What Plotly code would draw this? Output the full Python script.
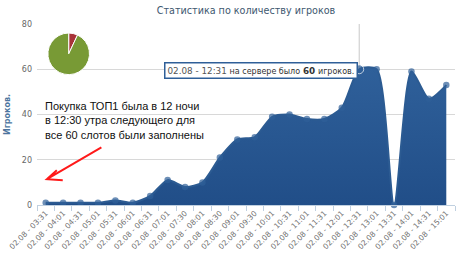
import plotly.graph_objects as go

# ---- data ----
categories = ["02.08 - 03:31", "02.08 - 04:01", "02.08 - 04:31", "02.08 - 05:01",
              "02.08 - 05:31", "02.08 - 06:01", "02.08 - 06:31", "02.08 - 07:01",
              "02.08 - 07:30", "02.08 - 08:01", "02.08 - 08:30", "02.08 - 09:01",
              "02.08 - 09:30", "02.08 - 10:01", "02.08 - 10:31", "02.08 - 11:01",
              "02.08 - 11:31", "02.08 - 12:01", "02.08 - 12:31", "02.08 - 13:01",
              "02.08 - 13:31", "02.08 - 14:01", "02.08 - 14:31", "02.08 - 15:01"]
players = [1, 1, 1, 1, 2, 1, 4, 11, 8, 10, 21, 29, 30, 39, 40, 38, 38, 43,
           60, 60, 0, 59, 47, 53]
y_ticks = [0, 20, 40, 60, 80]
pie_labels = ["Занято", "Свободно"]
pie_values = [7, 93]
hover_category = "02.08 - 12:31"

title_text = "Статистика по количеству игроков"
y_title = "Игроков."
note_lines = ["Покупка ТОП1 была в 12 ночи",
              "в 12:30 утра следующего для",
              "все 60 слотов были заполнены"]

W, H = 461, 257
ML, MR, MT, MB = 33, 6, 24, 51
PW, PH = W - ML - MR, H - MT - MB


def px(x):
    return (x - ML) / PW


def py(y):
    return (H - MB - y) / PH


xs = list(range(len(categories)))
hi = categories.index(hover_category)
sizes = [6.5] * len(xs)
sizes[hi] = 9
line_w = [0] * len(xs)
line_w[hi] = 1

fig = go.Figure()
fig.add_trace(go.Scatter(
    x=xs, y=players, mode="lines+markers",
    line=dict(color="#2c5b92", width=2, shape="spline", smoothing=0.7),
    marker=dict(color="#2f5f98", size=sizes, line=dict(color="white", width=line_w)),
    fill="tozeroy",
    fillgradient=dict(type="vertical",
                      colorscale=[[0, "#214e88"], [1, "#2f609a"]]),
    hoverinfo="skip", showlegend=False, cliponaxis=False,
))

fig.add_trace(go.Pie(
    labels=pie_labels, values=pie_values, sort=False, direction="clockwise",
    rotation=0, marker=dict(colors=["#a83338", "#789a35"], line=dict(color="white", width=1)),
    textinfo="none", hoverinfo="skip", showlegend=False,
    domain=dict(x=[px(44), px(86)], y=[py(75), py(33)]),
))

# crosshair at hovered point
fig.add_shape(type="line", xref="x", yref="y", x0=hi, x1=hi, y0=0, y1=y_ticks[-1],
              line=dict(color="#c8c8c8", width=1), layer="below")

# arrow (open head)
fig.add_shape(type="path", xref="paper", yref="paper",
              path=(f"M {px(98)},{py(148)} L {px(43)},{py(180)} "
                    f"M {px(53)},{py(171)} L {px(43)},{py(180)} L {px(59)},{py(181)}"),
              line=dict(color="#ff1a1a", width=2))

for i, t in enumerate(note_lines):
    fig.add_annotation(xref="paper", yref="paper", x=px(39), y=py(106 + 15 * i),
                       xanchor="left", yanchor="middle", text=t, showarrow=False,
                       font=dict(family="Liberation Sans", size=11, color="#111111"))

# tooltip
tip = (f"<span style='color:#555'>{hover_category}</span> "
       f"<span style='font-size:8px'>на сервере было</span> "
       f"<b>{players[hi]}</b> <span style='font-size:8px'>игроков.</span>")
fig.add_annotation(xref="paper", yref="paper", x=px(259.5), y=py(70.5),
                   xanchor="center", yanchor="middle", text=tip, showarrow=False,
                   font=dict(family="DejaVu Sans", size=8.8, color="#333333"),
                   bgcolor="white", bordercolor="#2f5f98", borderwidth=1.5, borderpad=2)

fig.update_layout(
    width=W, height=H, margin=dict(l=ML, r=MR, t=MT, b=MB),
    paper_bgcolor="white", plot_bgcolor="white",
    title=dict(text=title_text, x=0.5, xref="paper", y=1 - 11 / H, yref="container",
               xanchor="center", yanchor="middle",
               font=dict(family="DejaVu Sans", size=9.6, color="#3e576f")),
    xaxis=dict(range=[-0.5, len(xs) - 0.5], tickmode="array", tickvals=xs,
               ticktext=categories, tickangle=-45, ticks="", showgrid=False,
               zeroline=False, showline=True, linecolor="#c0d0e0", linewidth=1,
               tickfont=dict(family="DejaVu Sans", size=7.5, color="#6f6f6f"),
               minor=dict(tickmode="array", tickvals=[i - 0.5 for i in xs] + [len(xs) - 0.5],
                          ticks="outside", ticklen=5, tickcolor="#c0d0e0", showgrid=False)),
    yaxis=dict(range=[0, y_ticks[-1]], tickmode="array", tickvals=y_ticks,
               showgrid=True, gridcolor="#d8d8d8", zeroline=False, showline=False,
               tickfont=dict(family="DejaVu Sans", size=8, color="#666666"),
               ticklabelstandoff=4,
               title=dict(text=f"<b>{y_title}</b>", standoff=10,
                          font=dict(family="DejaVu Sans", size=8, color="#4d759e"))),
)

fig.write_html("out.html")
